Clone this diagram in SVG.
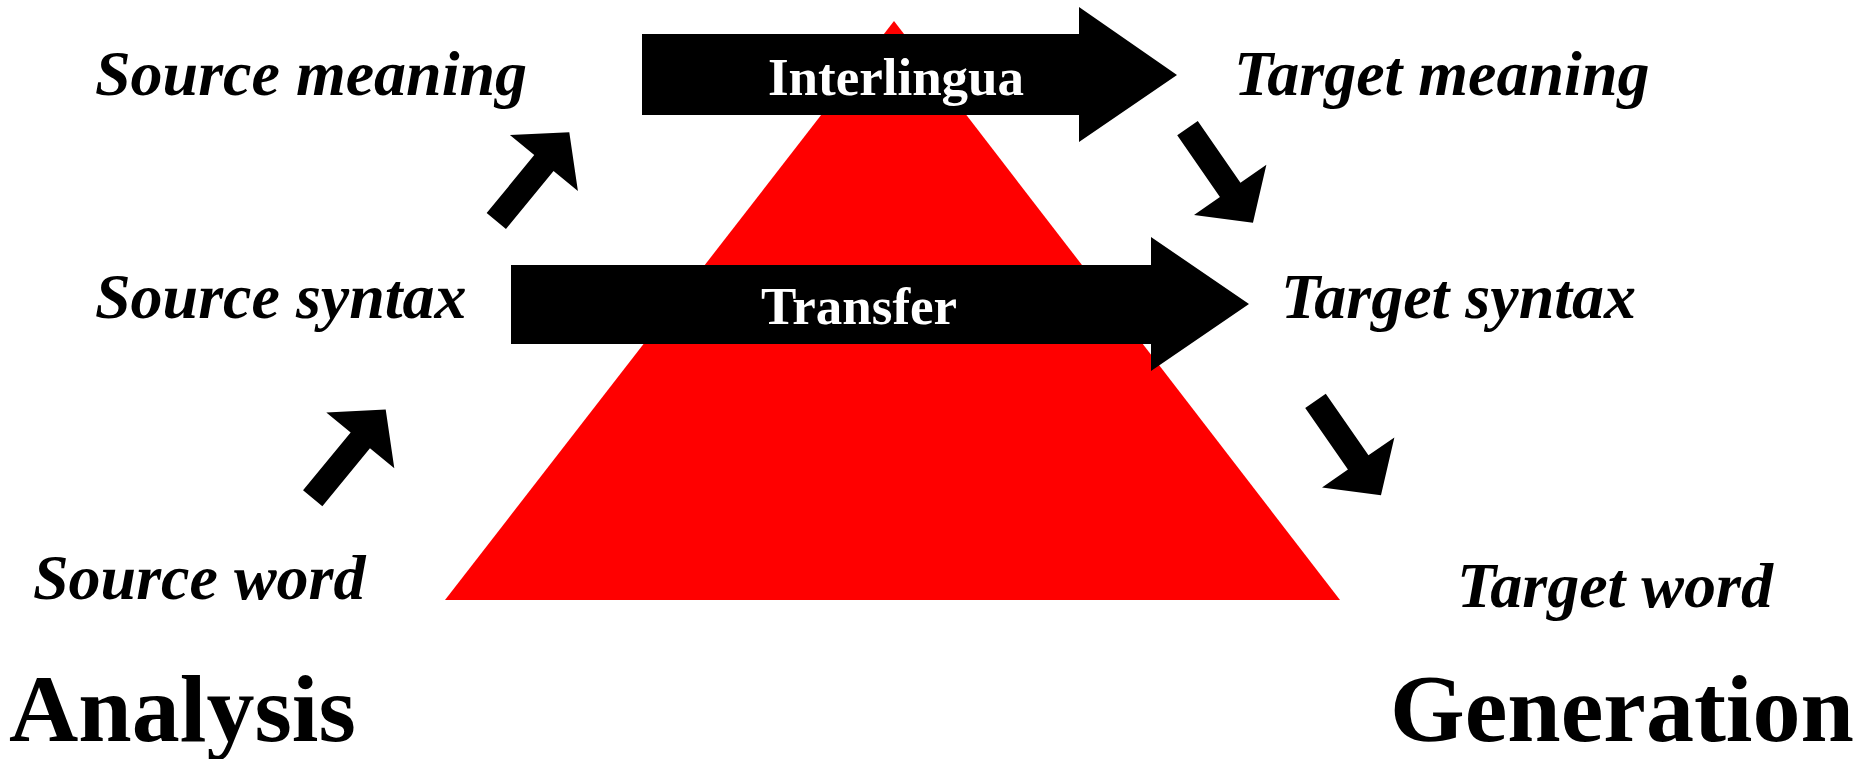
<svg xmlns="http://www.w3.org/2000/svg" xmlns:xlink="http://www.w3.org/1999/xlink" width="1860" height="759" viewBox="0 0 1860 759">
  <style>
    .lbl { font-family: "Liberation Serif", "Times New Roman", serif; font-weight: bold; font-style: italic; font-size: 64px; fill: #000; }
    .big { font-family: "Liberation Serif", "Times New Roman", serif; font-weight: bold; font-size: 96px; fill: #000; }
    .inner { font-family: "Liberation Serif", "Times New Roman", serif; font-weight: bold; font-size: 53px; fill: #fff; text-anchor: middle; }
    .blk { fill: #000; }
  </style>
  <defs>
    <path id="blockArrow" d="M0,-12.5 L75,-12.5 L75,-44 L115,0 L75,44 L75,12.5 L0,12.5 Z"/>
  </defs>
  <rect width="1860" height="759" fill="#fff"/>

  <g id="pyramid">
    <polygon points="894,21 445,600 1340,600" fill="#ff0000"/>
  </g>

  <g id="connectors">
    <g id="interlingua">
      <polygon class="blk" points="642,34 1079,34 1079,7 1177,75 1079,142 1079,115 642,115"/>
      <text class="inner" x="896" y="95">Interlingua</text>
    </g>
    <g id="transfer">
      <polygon class="blk" points="511,265 1151,265 1151,237 1249,304 1151,371 1151,344 511,344"/>
      <text class="inner" x="859" y="324">Transfer</text>
    </g>
    <use class="blk" xlink:href="#blockArrow" transform="translate(312.7,498.3) rotate(-50.6)"/>
    <use class="blk" xlink:href="#blockArrow" transform="translate(496.3,221) rotate(-50.6)"/>
    <use class="blk" xlink:href="#blockArrow" transform="translate(1187.5,128.2) rotate(55.3)"/>
    <use class="blk" xlink:href="#blockArrow" transform="translate(1315.5,400.8) rotate(55.3)"/>
  </g>

  <g id="source-meaning"><text class="lbl" x="95" y="95">Source meaning</text></g>
  <g id="target-meaning"><text class="lbl" x="1234" y="95">Target meaning</text></g>
  <g id="source-syntax"><text class="lbl" x="95" y="318">Source syntax</text></g>
  <g id="target-syntax"><text class="lbl" x="1281" y="318">Target syntax</text></g>
  <g id="source-word"><text class="lbl" x="33" y="599">Source word</text></g>
  <g id="target-word"><text class="lbl" x="1457" y="607">Target word</text></g>
  <g id="analysis"><text class="big" x="9" y="741">Analysis</text></g>
  <g id="generation"><text class="big" x="1390" y="741">Generation</text></g>
</svg>
